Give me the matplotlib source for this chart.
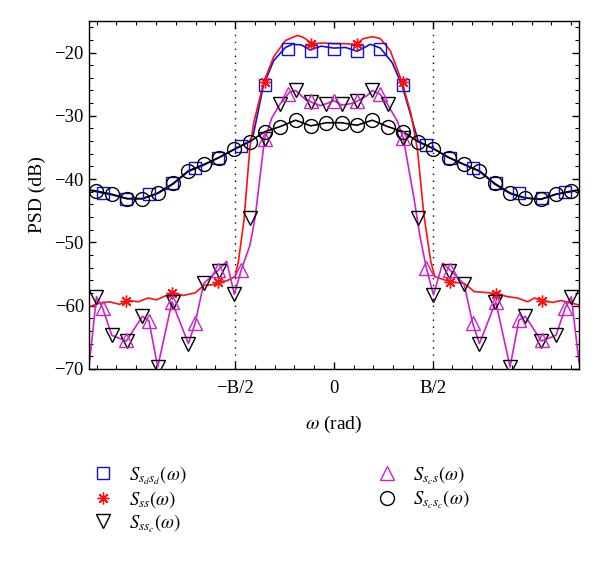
import matplotlib
matplotlib.use('Agg')
import matplotlib.pyplot as plt
from matplotlib.lines import Line2D
from matplotlib.ticker import MultipleLocator, FixedLocator

plt.rcParams['font.family'] = ['Liberation Serif', 'DejaVu Serif']
plt.rcParams['mathtext.fontset'] = 'stix'
plt.rcParams['axes.unicode_minus'] = True

# x axis in units of B/2
x_min, x_max = -2.48, 2.48
xtick_pos = [-1, 0, 1]
xtick_labels = ['\u2212B/2', '0', 'B/2']
ytick_pos = [-70, -60, -50, -40, -30, -20]

# sample grid (circles / down triangles)
grid_x = [-2.4025, -2.2475, -2.0925, -1.9375, -1.7825, -1.6275, -1.4725, -1.3175,
          -1.1625, -1.0075, -0.8525, -0.6975, -0.5425, -0.3875, -0.2325, -0.0775,
          0.0775, 0.2325, 0.3875, 0.5425, 0.6975, 0.8525, 1.0075, 1.1625,
          1.3175, 1.4725, 1.6275, 1.7825, 1.9375, 2.0925, 2.2475, 2.4025]
# marker grid (squares / up triangles)
grid2_x = [-2.34, -2.106, -1.872, -1.638, -1.404, -1.17, -0.936, -0.702, -0.468, -0.234, 0.0,
           0.234, 0.468, 0.702, 0.936, 1.17, 1.404, 1.638, 1.872, 2.106, 2.34]
# stars
star_x = [-2.106, -1.638, -1.17, -0.702, -0.234, 0.234, 0.702, 1.17, 1.638, 2.106]

# S_scsc (circles)
scsc_y = [-41.9, -42.4, -43.1, -43.1, -42.2, -40.7, -38.7, -37.7, -36.6, -35.3, -34.1,
          -32.5, -31.7, -30.7, -31.6, -31.1, -31.1, -31.5, -30.7, -31.7, -32.5, -34.1,
          -35.2, -36.6, -37.7, -38.7, -40.7, -42.2, -43.0, -43.2, -42.4, -41.9]
scsc_line_x = [-2.48] + grid_x + [2.48]
scsc_line_y = [-41.7] + scsc_y + [-41.7]

# S_sdsd (blue)
sdsd_line_x = [-2.48, -2.4025, -2.2475, -2.0925, -1.9375, -1.7825, -1.6275, -1.4725, -1.3175,
               -1.1625, -1.0075, -0.8525, -0.814, -0.713, -0.61, -0.49, -0.42, -0.33, -0.24,
               -0.13, 0.0, 0.117, 0.235, 0.37, 0.47, 0.59, 0.69, 0.794, 0.8525, 1.0075,
               1.1625, 1.3175, 1.4725, 1.6275, 1.7825, 1.9375, 2.0925, 2.2475, 2.4025, 2.48]
sdsd_line_y = [-41.8, -42.0, -42.5, -43.1, -43.1, -42.3, -40.8, -38.8, -37.8, -36.6, -35.3,
               -34.0, -32.9, -25.2, -21.3, -19.2, -18.7, -18.8, -19.6, -19.0, -19.3, -19.2,
               -19.8, -18.7, -19.3, -21.6, -25.2, -30.8, -34.0, -35.2, -36.6, -37.7, -38.8,
               -40.8, -42.3, -43.0, -43.2, -42.4, -42.0, -41.8]
sdsd_y = [-42.2, -43.1, -42.3, -40.6, -38.3, -36.6, -34.7, -25.2, -19.4, -19.7, -19.4,
          -19.7, -19.4, -25.2, -34.6, -36.6, -38.2, -40.6, -42.2, -43.0, -42.1]

# S_ss (red)
ss_line_x = [-2.48, -2.37, -2.27, -2.17, -2.08, -1.98, -1.88, -1.795, -1.71, -1.626, -1.525,
             -1.406, -1.315, -1.22, -1.16, -1.085, -1.0, -0.966, -0.91, -0.85, -0.81, -0.71,
             -0.61, -0.49, -0.37, -0.31, -0.22, -0.10, 0.0, 0.10, 0.22, 0.30, 0.39, 0.47,
             0.57, 0.69, 0.78, 0.845, 0.91, 0.98, 1.02, 1.166, 1.32, 1.42, 1.52, 1.64, 1.76,
             1.86, 1.96, 2.03, 2.10, 2.215, 2.30, 2.40, 2.48]
ss_line_y = [-60.2, -59.6, -59.4, -59.8, -59.2, -59.4, -58.8, -59.1, -58.5, -58.0, -58.4,
             -58.0, -56.8, -56.7, -56.2, -56.1, -55.4, -53.0, -46.5, -35.0, -31.0, -24.7,
             -20.7, -18.1, -17.3, -17.6, -18.6, -18.5, -18.6, -18.6, -18.7, -17.8, -17.5,
             -17.8, -19.7, -24.7, -29.7, -35.3, -45.6, -53.0, -55.4, -56.2, -56.5, -57.8,
             -57.9, -58.1, -58.6, -58.8, -59.4, -58.8, -59.2, -59.5, -59.2, -59.6, -59.9]
ss_y = [-59.2, -58.0, -56.2, -24.7, -18.6, -18.6, -24.7, -56.2, -58.1, -59.2]

# S_ssc (black down triangles)
ssc_y = [-58.6, -64.7, -65.6, -61.7, -69.7, -59.4, -66.0, -56.5, -54.6, -58.2, -46.1,
         -33.7, -28.2, -26.0, -27.8, -28.1, -28.2, -27.7, -26.0, -28.2, -33.5, -46.1,
         -58.3, -54.5, -56.6, -66.0, -59.4, -69.7, -61.7, -65.6, -64.7, -58.6]

# S_scs (magenta)
scs_y = [-60.4, -65.4, -62.4, -59.4, -62.8, -54.3, -54.3, -33.7, -26.6, -27.7, -27.6,
         -27.7, -26.6, -33.5, -54.1, -54.3, -62.8, -59.4, -62.3, -65.5, -60.4]
scs_line_x = [-2.48, -2.4025, -2.34, -2.2475, -2.10, -1.9375, -1.872, -1.7825, -1.638,
              -1.4725, -1.404, -1.3175, -1.17, -1.085, -1.0075, -0.936, -0.85, -0.797,
              -0.702, -0.627, -0.5425, -0.45, -0.3875, -0.29, -0.234, -0.137, -0.0775, 0.0,
              0.0775, 0.167, 0.234, 0.337, 0.3875, 0.468, 0.5425, 0.64, 0.702, 0.81, 0.87,
              0.936, 1.0075, 1.10, 1.17, 1.3175, 1.404, 1.4725, 1.638, 1.7825, 1.872,
              1.9375, 2.10, 2.2475, 2.34, 2.4025, 2.48]
scs_line_y = [-70.0, -58.6, -60.4, -64.7, -65.6, -61.7, -62.4, -69.7, -59.4, -66.0, -62.8,
              -56.5, -54.4, -53.0, -58.2, -54.3, -50.5, -46.1, -33.7, -30.3, -28.1, -26.3,
              -26.0, -27.4, -27.8, -28.4, -28.1, -27.6, -28.3, -28.1, -27.7, -26.8, -26.0,
              -26.6, -28.2, -30.8, -33.5, -43.0, -49.0, -54.1, -58.3, -53.3, -54.3, -56.6,
              -62.8, -66.0, -59.4, -69.7, -62.3, -61.7, -65.6, -64.7, -60.4, -58.6, -69.0]

labels = [r'$S_{s_d s_d}(\omega)$', r'$S_{ss}(\omega)$', r'$S_{ss_c}(\omega)$',
          r'$S_{s_c s}(\omega)$', r'$S_{s_c s_c}(\omega)$']

c_blue = '#1010d8'
c_red = '#ff1010'
c_mag = '#cc22cc'
c_blk = '#000000'

fig = plt.figure(figsize=(6.0, 5.64), dpi=100)
ax = fig.add_axes([0.148, 0.346, 0.817, 0.617])

lw = 1.2
mew = 1.0

ax.plot(sdsd_line_x, sdsd_line_y, color=c_blue, lw=lw, zorder=2)
ax.plot(grid2_x, sdsd_y, ls='none', marker='s', ms=8, mfc='none', mec=c_blue, mew=mew, zorder=3)

ax.plot(ss_line_x, ss_line_y, color=c_red, lw=lw, zorder=2)
ax.plot(star_x, ss_y, ls='none', marker=(8, 2, 0), ms=8.5, mec=c_red, mew=mew, zorder=3)

ax.plot(grid_x, ssc_y, ls='none', marker='v', ms=10, mfc='none', mec=c_blk, mew=mew, zorder=3)

ax.plot(scs_line_x, scs_line_y, color=c_mag, lw=lw, zorder=2)
ax.plot(grid2_x, scs_y, ls='none', marker='^', ms=10, mfc='none', mec=c_mag, mew=mew, zorder=3)

ax.plot(scsc_line_x, scsc_line_y, color=c_blk, lw=lw, zorder=2)
ax.plot(grid_x, scsc_y, ls='none', marker='o', ms=10, mfc='none', mec=c_blk, mew=mew, zorder=3)

for xv in (-1, 1):
    ax.axvline(xv, color='black', lw=1.0, ls=(0, (1, 4)), zorder=1)

ax.set_xlim(x_min, x_max)
ax.set_ylim(-70, -15)
ax.xaxis.set_major_locator(FixedLocator(xtick_pos))
ax.set_xticklabels(xtick_labels)
ax.xaxis.set_minor_locator(MultipleLocator(0.2))
ax.set_yticks(ytick_pos)
ax.yaxis.set_minor_locator(MultipleLocator(2))
ax.tick_params(which='both', direction='in', top=True, right=True, labelsize=13.5)
ax.tick_params(which='major', length=5, width=1)
ax.tick_params(which='minor', length=3, width=0.8)
ax.tick_params(axis='x', which='major', pad=8)
for s in ax.spines.values():
    s.set_linewidth(1.0)

ax.set_xlabel(r'$\omega$ (rad)', fontsize=14, labelpad=12)
ax.set_ylabel('PSD (dB)', fontsize=14, labelpad=6)

h = [Line2D([], [], ls='none', marker='s', ms=8, mfc='none', mec=c_blue, mew=mew),
     Line2D([], [], ls='none', marker=(8, 2, 0), ms=8.5, mec=c_red, mew=mew),
     Line2D([], [], ls='none', marker='v', ms=10, mfc='none', mec=c_blk, mew=mew),
     Line2D([], [], ls='none', marker='^', ms=10, mfc='none', mec=c_mag, mew=mew),
     Line2D([], [], ls='none', marker='o', ms=10, mfc='none', mec=c_blk, mew=mew)]

common = dict(frameon=False, fontsize=13.5, borderpad=0, handlelength=1.2,
              handletextpad=0.8, labelspacing=0.12, loc='upper left')
fig.legend(h[:3], labels[:3], bbox_to_anchor=(0.137, 0.194), **common)
fig.legend(h[3:], labels[3:], bbox_to_anchor=(0.611, 0.194), **common)

fig.savefig('out.png', dpi=100)
